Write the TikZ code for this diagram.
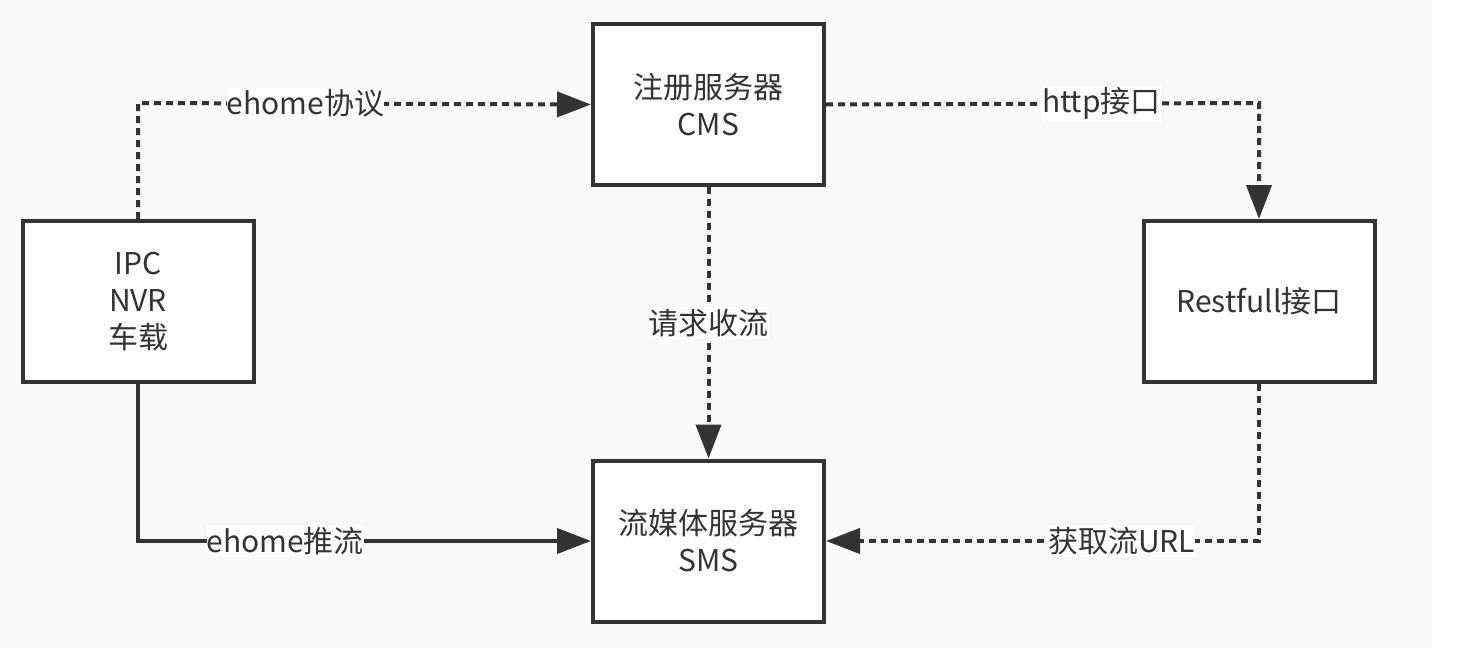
\documentclass[tikz,border=0pt]{standalone}
\usepackage{fontspec}
\setmainfont{Noto Sans CJK SC}
\usetikzlibrary{arrows.meta}
\definecolor{bgcol}{RGB}{249,249,249}
\definecolor{ink}{RGB}{51,51,51}
\tikzset{
  box/.style={draw=ink, line width=4pt, fill=white, minimum width=231pt, minimum height=161pt,
    inner sep=0pt, align=center, text=ink, font=\fontsize{30pt}{37pt}\selectfont},
  conn/.style={draw=ink, line width=4pt, -{Triangle[length=34pt,width=25pt]}},
  dotline/.style={conn, dash pattern=on 7pt off 5pt},
  lbl/.style={fill=white, text=ink, inner xsep=0pt, inner ysep=2pt, font=\fontsize{30pt}{34pt}\selectfont}
}
\begin{document}
\begin{tikzpicture}[x=1pt,y=-1pt]
\useasboundingbox (0,0) rectangle (1464,648);
\fill[white] (0,0) rectangle (1464,648);
\fill[bgcol] (0,0) rectangle (1432,648);

\node[box] (ipc) at (138,301.5) {IPC\\NVR\\车载};
\node[box] (cms) at (708.5,104.5) {注册服务器\\CMS};
\node[box] (rest) at (1259,301.5) {Restfull接口};
\node[box] (sms) at (708.5,541) {流媒体服务器\\SMS};

\coordinate (c1) at (138,103);
\coordinate (c2) at (1259,103);
\coordinate (c4) at (1259,541);
\coordinate (c5) at (138,541);

\draw[dotline] (ipc.north) -- (c1) -- node[lbl, pos=0.37] {ehome协议} (cms.west);
\draw[dotline] (cms.east) -- node[lbl, pos=0.636] {http接口} (c2) -- (rest.north);
\draw[dotline] (cms.south) -- node[lbl, pos=0.5] {请求收流} (sms.north);
\draw[dotline] (rest.south) -- (c4) -- node[lbl, pos=0.317] {获取流URL} (sms.east);
\draw[conn] (ipc.south) -- (c5) -- node[lbl, pos=0.325] {ehome推流} (sms.west);
\end{tikzpicture}
\end{document}
